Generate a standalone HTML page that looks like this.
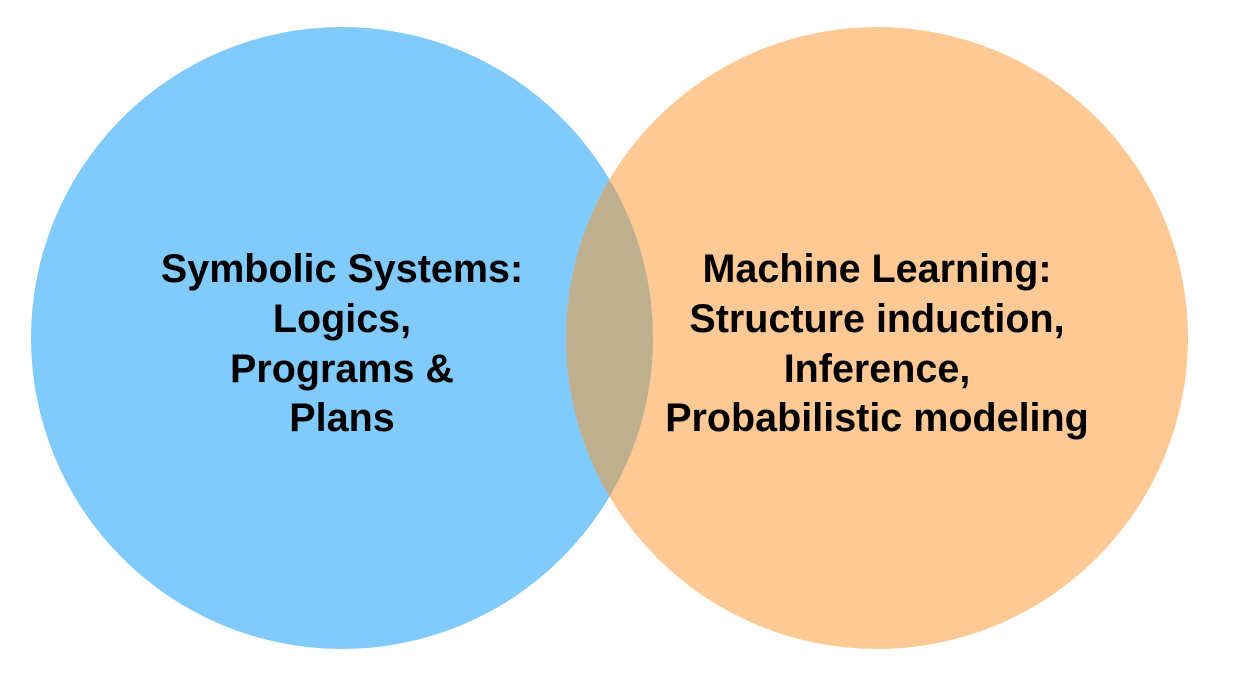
<!DOCTYPE html>
<html><head><meta charset="utf-8"><style>
html,body{margin:0;padding:0;background:#fff;}
svg{display:block;}
text{font-family:"Liberation Sans",Arial,sans-serif;font-weight:bold;font-size:39.5px;fill:#000;}
</style></head><body>
<svg width="1244" height="680" viewBox="0 0 1244 680" xmlns="http://www.w3.org/2000/svg">
<defs><clipPath id="c"><circle cx="342" cy="338" r="311"/></clipPath></defs>
<circle cx="342" cy="338" r="311" fill="#80CAFC"/>
<circle cx="877" cy="338" r="311" fill="#FEC994"/>
<circle cx="877" cy="338" r="311" fill="#BEAF8F" clip-path="url(#c)"/>
<g text-anchor="middle">
<text x="342" y="282">Symbolic Systems:</text>
<text x="342" y="332">Logics,</text>
<text x="342" y="382">Programs &amp;</text>
<text x="342" y="431">Plans</text>
<text x="877" y="282">Machine Learning:</text>
<text x="877" y="332">Structure induction,</text>
<text x="877" y="382">Inference,</text>
<text x="877" y="431">Probabilistic modeling</text>
</g>
</svg>
</body></html>
